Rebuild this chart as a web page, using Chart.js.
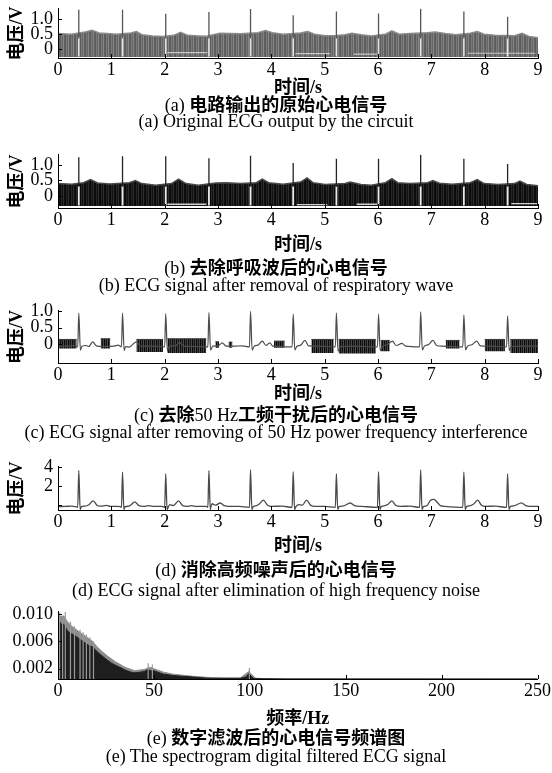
<!DOCTYPE html>
<html><head><meta charset="utf-8">
<script src="https://cdn.jsdelivr.net/npm/chart.js@4.4.1/dist/chart.umd.min.js"></script>
<style>
html,body{margin:0;padding:0;background:#fff;}
body{width:552px;height:773px;position:relative;overflow:hidden;}
canvas{position:absolute;left:0;}
.cap{position:absolute;left:0;width:552px;text-align:center;font-size:18px;line-height:22px;white-space:nowrap;color:#000;}
.lat{font-family:'Liberation Serif','Times New Roman',serif;font-weight:400;}
.cjk{font-family:'Noto Sans CJK SC',sans-serif;font-weight:700;}
</style></head><body>
<canvas id="ca" width="552" height="106" style="top:-7px"></canvas>
<div class="cap" style="top:92px"><span class="lat">(a) </span><span class="cjk">电路输出的原始心电信号</span></div>
<div class="cap lat" style="top:110px">(a) Original ECG output by the circuit</div>

<canvas id="cb" width="552" height="117" style="top:139px"></canvas>
<div class="cap" style="top:255px"><span class="lat">(b) </span><span class="cjk">去除呼吸波后的心电信号</span></div>
<div class="cap lat" style="top:274px">(b) ECG signal after removal of respiratory wave</div>

<canvas id="cc" width="552" height="110" style="top:295px"></canvas>
<div class="cap" style="top:402px"><span class="lat">(c) </span><span class="cjk">去除</span><span class="lat">50 Hz</span><span class="cjk">工频干扰后的心电信号</span></div>
<div class="cap lat" style="top:421px">(c) ECG signal after removing of 50 Hz power frequency interference</div>

<canvas id="cd" width="552" height="106" style="top:451px"></canvas>
<div class="cap" style="top:557px"><span class="lat">(d) </span><span class="cjk">消除高频噪声后的心电信号</span></div>
<div class="cap lat" style="top:579px">(d) ECG signal after elimination of high frequency noise</div>

<canvas id="ce" width="552" height="134" style="top:596px"></canvas>
<div class="cap" style="top:725px"><span class="lat">(e) </span><span class="cjk">数字滤波后的心电信号频谱图</span></div>
<div class="cap lat" style="top:745px">(e) The spectrogram digital filtered ECG signal</div>

<script>
// ---------------- data ----------------
const beatTimes = [0.39, 1.21, 2.02, 2.83, 3.61, 4.41, 5.22, 6.01, 6.80, 7.61, 8.43];
const timeTicks = [0, 1, 2, 3, 4, 5, 6, 7, 8, 9];
const timeLabels = ['0', '1', '2', '3', '4', '5', '6', '7', '8', '9'];
const freqTicks = [0, 50, 100, 150, 200, 250];
const freqLabels = ['0', '50', '100', '150', '200', '250'];
const voltTicks = [0, 0.5, 1.0];
const voltLabels = ['0', '0.5', '1.0'];
const voltTicksD = [0, 2, 4];
const voltLabelsD = ['', '2', '4'];
const specTicks = [0.002, 0.006, 0.010];
const specLabels = ['0.002', '0.006', '0.010'];

// (a) original output: noise band top edge, R peaks, white streaks near bottom
const aPeaks = [1.32, 1.32, 1.18, 1.24, 1.34, 1.13, 1.26, 1.19, 1.37, 1.26, 1.08];
const aFloor = -0.27;
const aEnvelope = [[0,0.52],[0.25,0.5],[0.51,0.57],[0.64,0.63],[0.77,0.54],[0.91,0.52],[1.1,0.5],[1.37,0.54],[1.47,0.59],[1.57,0.48],[1.77,0.44],[1.97,0.42],[2.17,0.46],[2.3,0.56],[2.43,0.46],[2.63,0.44],[2.79,0.43],[3.03,0.53],[3.22,0.52],[3.42,0.51],[3.75,0.55],[3.89,0.62],[4.02,0.55],[4.22,0.5],[4.55,0.54],[4.68,0.59],[4.81,0.5],[5.01,0.45],[5.18,0.45],[5.38,0.48],[5.51,0.53],[5.68,0.48],[5.87,0.44],[6.14,0.5],[6.26,0.61],[6.4,0.5],[6.6,0.52],[6.93,0.55],[7.07,0.57],[7.26,0.52],[7.46,0.48],[7.73,0.53],[7.86,0.59],[7.99,0.5],[8.19,0.46],[8.56,0.45],[8.7,0.53],[8.83,0.42],[9.0,0.38]];
const aStreaks = [[2.05,2.80,-0.12],[4.45,5.10,-0.15],[5.55,5.98,-0.17],[7.68,8.95,-0.14]];

// (b) after removing respiratory wave
const bPeaks = [1.24, 1.27, 1.27, 1.21, 1.29, 1.06, 1.19, 1.19, 1.32, 1.19, 1.03];
const bFloor = -0.32;
const bEnvelope = [[0,0.4],[0.25,0.38],[0.48,0.43],[0.61,0.53],[0.74,0.42],[0.97,0.39],[1.34,0.43],[1.45,0.5],[1.57,0.4],[1.83,0.35],[2.13,0.4],[2.26,0.54],[2.4,0.4],[2.63,0.35],[2.96,0.42],[3.16,0.43],[3.42,0.4],[3.72,0.43],[3.83,0.54],[3.95,0.43],[4.22,0.38],[4.55,0.45],[4.67,0.58],[4.78,0.43],[5.01,0.37],[5.38,0.4],[5.48,0.45],[5.68,0.37],[5.87,0.35],[6.14,0.43],[6.26,0.56],[6.37,0.43],[6.6,0.4],[6.93,0.43],[7.03,0.5],[7.15,0.41],[7.39,0.38],[7.73,0.43],[7.86,0.53],[7.99,0.4],[8.25,0.37],[8.56,0.4],[8.66,0.48],[8.79,0.37],[9,0.33]];
const bStreaks = [[2.05,2.78,-0.26],[4.48,5.05,-0.27],[5.6,5.98,-0.26],[8.5,8.98,-0.24]];

// (c) after 50 Hz removal: ECG trace + residual noise blocks [start, end, top, bottom]
const cTrace = [[0,-0.05],[0.2,-0.05],[0.3,-0.03],[0.37,-0.07],[0.39,0.93],[0.42,-0.17],[0.45,-0.05],[0.52,-0.03],[0.58,-0.06],[0.65,0.08],[0.72,-0.04],[0.85,-0.06],[1.05,-0.05],[1.13,-0.02],[1.19,-0.07],
[1.21,0.93],[1.24,-0.18],[1.27,-0.06],[1.33,-0.08],[1.42,0.03],[1.47,0.08],[1.55,-0.05],[1.8,-0.05],[2.0,-0.07],
[2.02,0.92],[2.05,-0.2],[2.08,-0.06],[2.2,-0.04],[2.28,0.06],[2.36,-0.05],[2.6,-0.06],[2.81,-0.07],
[2.83,0.95],[2.86,-0.17],[2.9,-0.05],[3.0,-0.04],[3.08,0.05],[3.15,-0.05],[3.3,-0.05],[3.45,-0.04],[3.59,-0.07],
[3.61,0.98],[3.64,-0.17],[3.68,-0.05],[3.75,-0.02],[3.83,0.1],[3.9,-0.03],[3.97,0.05],[4.03,-0.05],[4.39,-0.07],
[4.41,0.9],[4.44,-0.16],[4.48,-0.05],[4.55,-0.02],[4.63,0.12],[4.7,-0.04],[4.9,-0.05],[5.2,-0.07],
[5.22,0.93],[5.25,-0.2],[5.3,-0.06],[5.5,-0.05],[5.99,-0.07],
[6.01,0.9],[6.04,-0.18],[6.09,-0.05],[6.18,0.0],[6.27,0.1],[6.34,-0.03],[6.45,0.03],[6.52,-0.05],[6.78,-0.07],
[6.80,0.97],[6.83,-0.16],[6.87,-0.05],[6.95,0.0],[7.03,0.12],[7.1,-0.03],[7.2,-0.05],[7.59,-0.07],
[7.61,0.88],[7.64,-0.16],[7.68,-0.05],[7.77,0.0],[7.85,0.1],[7.92,-0.04],[8.1,-0.05],[8.41,-0.07],
[8.43,0.85],[8.46,-0.18],[8.5,-0.06],[8.7,-0.05],[9.0,-0.05]];
const cNoise = [[0,0.35,0.15,-0.12],[0.8,0.98,0.17,-0.12],[1.47,1.97,0.15,-0.22],[2.05,2.78,0.17,-0.25],[2.95,3.02,0.08,-0.1],[3.2,3.27,0.07,-0.1],[4.05,4.25,0.1,-0.1],[4.75,5.17,0.15,-0.25],[5.26,5.96,0.15,-0.27],[6.05,6.22,0.12,-0.2],[7.27,7.53,0.12,-0.12],[8.0,8.38,0.15,-0.2],[8.48,9.0,0.15,-0.25]];

// (d) after removing high frequency noise
const dTrace = [[0,-0.15],[0.15,-0.12],[0.25,-0.1],[0.33,-0.15],[0.37,-0.22],[0.39,3.6],[0.415,-0.45],[0.44,-0.15],[0.5,-0.1],[0.58,0.05],[0.66,0.45],[0.73,0.0],[0.8,-0.1],[0.91,-0.02],[0.98,-0.12],[1.1,-0.12],[1.17,-0.15],[1.19,-0.22],
[1.21,3.43],[1.235,-0.45],[1.26,-0.15],[1.33,-0.1],[1.38,0.1],[1.44,0.35],[1.51,-0.02],[1.6,-0.12],[1.7,-0.05],[1.8,-0.12],[1.95,-0.12],[2.0,-0.22],
[2.02,3.27],[2.045,-0.45],[2.07,-0.15],[2.1,0.05],[2.16,-0.05],[2.26,0.45],[2.34,-0.05],[2.42,-0.12],[2.5,-0.05],[2.6,-0.12],[2.78,-0.12],[2.81,-0.22],
[2.83,3.6],[2.855,-0.45],[2.87,-0.1],[2.89,0.15],[2.95,0.0],[3.04,0.23],[3.12,-0.05],[3.2,-0.12],[3.4,-0.12],[3.59,-0.22],
[3.61,3.68],[3.635,-0.45],[3.66,-0.15],[3.72,-0.05],[3.78,0.15],[3.85,0.52],[3.93,0.0],[4.0,-0.12],[4.2,-0.1],[4.39,-0.22],
[4.41,3.49],[4.435,-0.45],[4.46,-0.15],[4.52,0.05],[4.58,0.0],[4.66,0.52],[4.74,-0.02],[4.82,-0.12],[5.0,-0.12],[5.2,-0.22],
[5.22,3.27],[5.245,-0.45],[5.27,-0.15],[5.35,-0.08],[5.48,0.23],[5.56,-0.05],[5.7,-0.12],[5.99,-0.22],
[6.01,3.49],[6.035,-0.45],[6.06,-0.15],[6.13,-0.05],[6.19,0.1],[6.26,0.45],[6.33,0.0],[6.42,-0.12],[6.6,-0.1],[6.78,-0.22],
[6.80,3.68],[6.825,-0.45],[6.85,-0.15],[6.92,-0.05],[6.98,0.5],[7.05,0.6],[7.11,0.3],[7.17,-0.05],[7.25,-0.12],[7.59,-0.22],
[7.61,3.43],[7.635,-0.45],[7.66,-0.15],[7.73,-0.05],[7.8,0.15],[7.87,0.52],[7.94,0.0],[8.02,-0.12],[8.2,-0.1],[8.41,-0.22],
[8.43,3.27],[8.455,-0.45],[8.48,-0.15],[8.56,-0.05],[8.69,0.25],[8.77,-0.05],[8.85,-0.12],[9.0,-0.12]];

// (e) spectrum: dense dark envelope, lighter envelope, isolated light spikes [Hz, amplitude]
const eDark = [[0,0.0086],[1,0.0088],[2,0.0084],[3,0.0085],[4,0.008],[5,0.0075],[7,0.0071],[8,0.007],[10,0.0066],[12,0.0062],[14,0.0058],[16,0.0054],[18,0.0052],[20,0.0046],[22,0.0041],[25,0.0034],[28,0.0028],[30,0.0025],[33,0.0021],[35,0.0018],[38,0.0015],[40,0.0014],[43,0.0015],[45,0.0016],[47,0.0019],[48,0.0017],[50,0.0017],[52,0.0015],[55,0.0012],[58,0.0011],[60,0.001],[65,0.0009],[70,0.0008],[74,0.0007],[78,0.00062],[85,0.00058],[95,0.0006],[98,0.0008],[99.5,0.0013],[100.5,0.0009],[102,0.0006],[106,0.00053],[120,0.0005],[250,0.0005]];
const eLight = [[0,0.0096],[3,0.0097],[5,0.0088],[8,0.008],[10,0.0076],[13,0.007],[15,0.0066],[18,0.006],[20,0.0053],[23,0.0045],[26,0.0038],[30,0.003],[35,0.0022],[40,0.0017],[45,0.0019],[48,0.0022],[50,0.002],[55,0.0015],[60,0.0012],[70,0.0009],[80,0.0007],[95,0.00065],[99.5,0.0016],[103,0.0006],[115,0.00052],[250,0.0005]];
const eSpikes = [[0.8,0.0102],[2.4,0.0097],[3.8,0.0103],[6.5,0.0089],[8.6,0.0082],[11.5,0.0077],[13.1,0.0073],[14.8,0.007],[16.6,0.0066],[18.5,0.006],[47,0.0028],[49.2,0.0026],[99.8,0.0021]];

// ---------------- helpers ----------------
const pts = arr => arr.map(p => ({x: p[0], y: p[1]}));
function vlines(xs, lo, hi) {
  const out = [];
  xs.forEach((x, i) => {
    const l = Array.isArray(lo) ? lo[i] : lo;
    const h = Array.isArray(hi) ? hi[i] : hi;
    out.push({x: x, y: l}, {x: x, y: h}, {x: x, y: null});
  });
  return out;
}
function hsegs(segs) {
  const out = [];
  segs.forEach(s => { out.push({x: s[0], y: s[2]}, {x: s[1], y: s[2]}, {x: s[1], y: null}); });
  return out;
}
// vertical stripe texture imitating the dense oscillation of the raw signal
function stripes(canvasId, cols) {
  const cv = document.createElement('canvas');
  cv.width = cols.length; cv.height = 8;
  const g = cv.getContext('2d');
  cols.forEach((c, i) => { g.fillStyle = c; g.fillRect(i, 0, 1, 8); });
  return document.getElementById(canvasId).getContext('2d').createPattern(cv, 'repeat');
}
const tickFont = {family: "'Liberation Serif','Times New Roman',serif", size: 18, lineHeight: 1.2};
const titleFont = {family: "'Liberation Serif','Noto Sans CJK SC',serif", size: 18, weight: 'bold', lineHeight: 1.2};

const inwardTicks = {
  id: 'inwardTicks',
  afterDraw(chart) {
    const {ctx, chartArea: a, scales} = chart;
    const x = scales.x, y = scales.y;
    ctx.save();
    ctx.strokeStyle = '#000';
    ctx.lineWidth = 1;
    ctx.beginPath();
    x.ticks.forEach(t => { const px = Math.round(x.getPixelForValue(t.value)) + 0.5; ctx.moveTo(px, a.bottom); ctx.lineTo(px, a.bottom - 4); });
    y.ticks.forEach(t => { const py = Math.round(y.getPixelForValue(t.value)) + 0.5; ctx.moveTo(a.left, py); ctx.lineTo(a.left + 4, py); });
    ctx.stroke();
    ctx.restore();
  }
};

function makeChart(id, cfg) {
  return new Chart(document.getElementById(id), {
    type: 'line',
    data: {datasets: cfg.datasets},
    options: {
      responsive: false, animation: false, devicePixelRatio: 1,
      layout: {padding: {top: 12, right: 14, left: 0, bottom: 0}},
      plugins: {legend: {display: false}, tooltip: {enabled: false}},
      elements: {point: {radius: 0}, line: {tension: 0}},
      scales: {
        x: {
          type: 'linear', min: cfg.xMin, max: cfg.xMax, offset: false,
          grid: {display: false, drawTicks: false},
          border: {display: true, color: '#000', width: 1, z: 1},
          afterBuildTicks: s => { s.ticks = cfg.xTicks.map(v => ({value: v})); },
          afterFit: s => { s.height = cfg.xH; },
          ticks: {autoSkip: false, maxRotation: 0, padding: 1, color: '#000', font: tickFont,
                  callback: (v, i) => cfg.xLabels[i]},
          title: {display: true, text: cfg.xTitle, color: '#000', font: titleFont, padding: {top: 0, bottom: 0}}
        },
        y: {
          type: 'linear', min: cfg.yMin, max: cfg.yMax,
          grid: {display: false, drawTicks: false},
          border: {display: true, color: '#000', width: 1, z: 1},
          afterBuildTicks: s => { s.ticks = cfg.yTicks.map(v => ({value: v})); },
          afterFit: s => { s.width = 58; },
          ticks: {autoSkip: false, padding: 5, color: '#000', font: tickFont, callback: (v, i) => cfg.yLabels[i]},
          title: {display: !!cfg.yTitle, text: cfg.yTitle || '', color: '#000', font: titleFont, padding: {top: 7, bottom: 0}}
        }
      }
    },
    plugins: [inwardTicks]
  });
}

// (a)
makeChart('ca', {
  xMin: 0, xMax: 9, xTicks: timeTicks, xLabels: timeLabels, xH: 41, xTitle: '时间/s',
  yMin: -0.3, yMax: 1.35, yTicks: voltTicks, yLabels: voltLabels, yTitle: '电压/V',
  datasets: [
    {data: vlines(beatTimes, 0.35, aPeaks), borderColor: '#555', borderWidth: 1.3, order: 0},
    {data: vlines(beatTimes, aFloor + 0.02, 0.42), borderColor: '#e4e4e4', borderWidth: 1.6, order: 1},
    {data: hsegs(aStreaks), borderColor: '#c8c8c8', borderWidth: 1.2, order: 2},
    {data: pts(aEnvelope), borderColor: '#8a8a8a', backgroundColor: stripes('ca', ['#5c5c5c', '#7a7a7a', '#666666', '#858585', '#606060']),
     borderWidth: 1.5, fill: {value: aFloor}, order: 3}
  ]
});

// (b)
makeChart('cb', {
  xMin: 0, xMax: 9, xTicks: timeTicks, xLabels: timeLabels, xH: 48, xTitle: '时间/s',
  yMin: -0.38, yMax: 1.32, yTicks: voltTicks, yLabels: voltLabels, yTitle: '电压/V',
  datasets: [
    {data: vlines(beatTimes, 0.3, bPeaks), borderColor: '#222', borderWidth: 1.3, order: 0},
    {data: vlines(beatTimes, bFloor + 0.02, 0.32), borderColor: '#eaeaea', borderWidth: 1.8, order: 1},
    {data: hsegs(bStreaks), borderColor: '#d0d0d0', borderWidth: 1.3, order: 2},
    {data: pts(bEnvelope), borderColor: '#4a4a4a', backgroundColor: stripes('cb', ['#0a0a0a', '#262626', '#111111', '#2e2e2e', '#0d0d0d']),
     borderWidth: 1.5, fill: {value: bFloor}, order: 3}
  ]
});

// (c)
const cPattern = stripes('cc', ['#0b0b0b', '#3c3c3c', '#141414', '#4a4a4a']);
const cDatasets = [
  {data: pts(cTrace), borderColor: '#4d4d4d', borderWidth: 1.2, cubicInterpolationMode: 'monotone', order: 0}
];
cNoise.forEach((s, i) => {
  cDatasets.push({data: [{x: s[0], y: s[2]}, {x: s[1], y: s[2]}], borderColor: '#3a3a3a', backgroundColor: cPattern,
                  borderWidth: 1, fill: {value: s[3]}, order: 1 + i});
});
makeChart('cc', {
  xMin: 0, xMax: 9, xTicks: timeTicks, xLabels: timeLabels, xH: 42, xTitle: '时间/s',
  yMin: -0.55, yMax: 1.0, yTicks: voltTicks, yLabels: voltLabels, yTitle: '电压/V',
  datasets: cDatasets
});

// (d)
makeChart('cd', {
  xMin: 0, xMax: 9, xTicks: timeTicks, xLabels: timeLabels, xH: 47, xTitle: '时间/s',
  yMin: -0.5, yMax: 4, yTicks: voltTicksD, yLabels: voltLabelsD, yTitle: '电压/V',
  datasets: [
    {data: pts(dTrace), borderColor: '#4a4a4a', borderWidth: 1.3, cubicInterpolationMode: 'monotone', order: 0}
  ]
});

// (e)
makeChart('ce', {
  xMin: 0, xMax: 250, xTicks: freqTicks, xLabels: freqLabels, xH: 51, xTitle: '频率/Hz',
  yMin: 0.0005, yMax: 0.0103, yTicks: specTicks, yLabels: specLabels, yTitle: '',
  datasets: [
    {data: vlines(eSpikes.map(p => p[0]), 0.0005, eSpikes.map(p => p[1])), borderColor: '#9a9a9a', borderWidth: 1.2, order: 0},
    {data: pts(eDark), borderColor: '#222', backgroundColor: '#1e1e1e', borderWidth: 1, fill: 'start', order: 1},
    {data: pts(eLight), borderColor: '#8c8c8c', backgroundColor: '#8c8c8c', borderWidth: 1, fill: 'start', order: 2}
  ]
});
</script>
</body></html>
